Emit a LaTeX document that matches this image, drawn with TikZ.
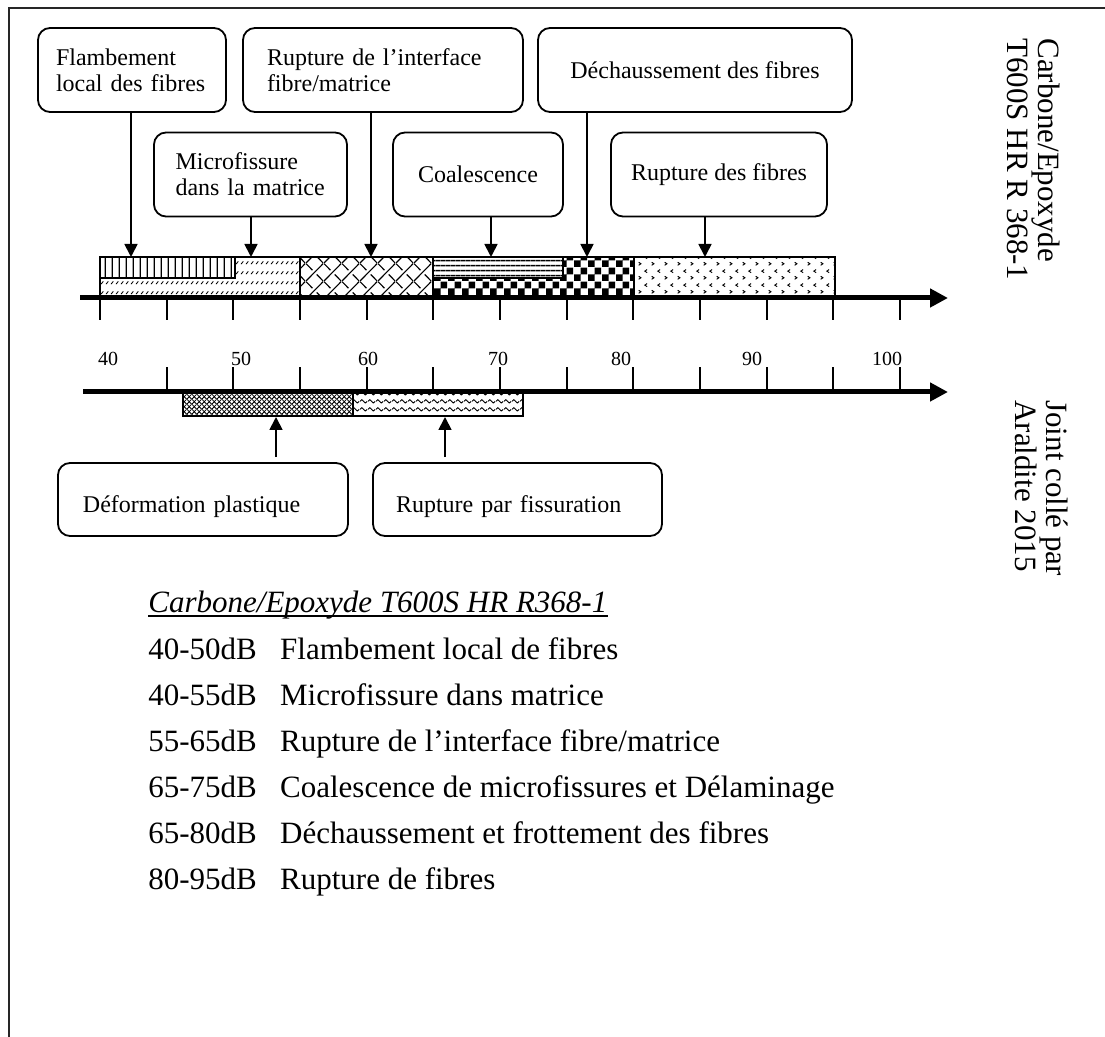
\documentclass[tikz,border=0pt]{standalone}
\usepackage{fontspec}
\setmainfont{Liberation Serif}
\usetikzlibrary{patterns,arrows.meta,positioning}
% fill patterns of the bars
\pgfdeclarepatternformonly{myVLines}{\pgfqpoint{0pt}{0pt}}{\pgfqpoint{3.4pt}{3.4pt}}{\pgfqpoint{3.4pt}{3.4pt}}{
	\pgfsetlinewidth{0.6pt}
	\pgfpathmoveto{\pgfqpoint{1.7pt}{0pt}}
	\pgfpathlineto{\pgfqpoint{1.7pt}{3.4pt}}
	\pgfusepath{stroke}
}
\pgfdeclarepatternformonly{myHLines}{\pgfqpoint{0pt}{0pt}}{\pgfqpoint{2.6pt}{2.6pt}}{\pgfqpoint{2.6pt}{2.6pt}}{
	\pgfsetlinewidth{0.8pt}
	\pgfpathmoveto{\pgfqpoint{0pt}{1.3pt}}
	\pgfpathlineto{\pgfqpoint{2.6pt}{1.3pt}}
	\pgfusepath{stroke}
}
\pgfdeclarepatternformonly{myDashes}{\pgfqpoint{0pt}{0pt}}{\pgfqpoint{2.4pt}{5pt}}{\pgfqpoint{2.4pt}{5pt}}{
	\pgfsetlinewidth{0.45pt}
	\pgfpathmoveto{\pgfqpoint{0.5pt}{1.5pt}}
	\pgfpathlineto{\pgfqpoint{1.7pt}{3pt}}
	\pgfusepath{stroke}
}
\pgfdeclarepatternformonly{myWeave}{\pgfqpoint{0pt}{0pt}}{\pgfqpoint{9pt}{9pt}}{\pgfqpoint{9pt}{9pt}}{
	\pgfsetlinewidth{0.6pt}
	\pgfpathmoveto{\pgfqpoint{0pt}{0pt}}
	\pgfpathlineto{\pgfqpoint{9pt}{9pt}}
	\pgfpathmoveto{\pgfqpoint{0pt}{9pt}}
	\pgfpathlineto{\pgfqpoint{3.4pt}{5.6pt}}
	\pgfpathmoveto{\pgfqpoint{5.6pt}{3.4pt}}
	\pgfpathlineto{\pgfqpoint{9pt}{0pt}}
	\pgfusepath{stroke}
}
\pgfdeclarepatternformonly{myChecker}{\pgfqpoint{0pt}{0pt}}{\pgfqpoint{7pt}{7pt}}{\pgfqpoint{7pt}{7pt}}{
	\pgfpathrectangle{\pgfqpoint{0pt}{0pt}}{\pgfqpoint{3.5pt}{3.5pt}}
	\pgfpathrectangle{\pgfqpoint{3.5pt}{3.5pt}}{\pgfqpoint{3.5pt}{3.5pt}}
	\pgfusepath{fill}
}
\pgfdeclarepatternformonly{myChevrons}{\pgfqpoint{0pt}{0pt}}{\pgfqpoint{6.5pt}{7pt}}{\pgfqpoint{6.5pt}{7pt}}{
	\pgfsetlinewidth{0.5pt}
	\pgfpathmoveto{\pgfqpoint{0.9pt}{0.9pt}}
	\pgfpathlineto{\pgfqpoint{2.1pt}{1.7pt}}
	\pgfpathlineto{\pgfqpoint{0.9pt}{2.5pt}}
	\pgfpathmoveto{\pgfqpoint{5.4pt}{4.4pt}}
	\pgfpathlineto{\pgfqpoint{4.2pt}{5.2pt}}
	\pgfpathlineto{\pgfqpoint{5.4pt}{6pt}}
	\pgfusepath{stroke}
}
\pgfdeclarepatternformonly{myMesh}{\pgfqpoint{0pt}{0pt}}{\pgfqpoint{2.6pt}{2.6pt}}{\pgfqpoint{2.6pt}{2.6pt}}{
	\pgfsetlinewidth{0.45pt}
	\pgfpathmoveto{\pgfqpoint{0pt}{0pt}}
	\pgfpathlineto{\pgfqpoint{2.6pt}{2.6pt}}
	\pgfpathmoveto{\pgfqpoint{0pt}{2.6pt}}
	\pgfpathlineto{\pgfqpoint{2.6pt}{0pt}}
	\pgfusepath{stroke}
}
\pgfdeclarepatternformonly{myWaves}{\pgfqpoint{0pt}{0pt}}{\pgfqpoint{4pt}{4pt}}{\pgfqpoint{4pt}{4pt}}{
	\pgfsetlinewidth{0.5pt}
	\pgfpathmoveto{\pgfqpoint{0pt}{2pt}}
	\pgfpathcurveto{\pgfqpoint{0.7pt}{3.2pt}}{\pgfqpoint{1.3pt}{3.2pt}}{\pgfqpoint{2pt}{2pt}}
	\pgfpathcurveto{\pgfqpoint{2.7pt}{0.8pt}}{\pgfqpoint{3.3pt}{0.8pt}}{\pgfqpoint{4pt}{2pt}}
	\pgfusepath{stroke}
}
\tikzset{
myFrame/.style={line width=1.3pt, black!85}
, myBox/.style={
	draw, rounded corners=6pt, line width=0.9pt,
	inner sep=0pt, minimum height=42pt,
	font=\fontsize{12}{13}\selectfont
}
, myBoxL/.style 2 args={myBox, minimum width=#1, text width=#2, align=left}
, myBoxC/.style={myBox, minimum width=#1, align=center}
, myBoxLow/.style 2 args={myBoxL={#1}{#2}, minimum height=0pt, text height=25pt, text depth=11.5pt}
, myArrow/.style={-{Triangle[length=6.5pt,width=6.5pt]}, line width=0.9pt}
, myAxis/.style={-{Triangle[length=9pt,width=9pt]}, line width=2.5pt}
, myTick/.style={line width=0.9pt}
, myBar/.style={draw, line width=0.9pt}
, myNum/.style={inner sep=0pt, font=\fontsize{10}{12}\selectfont}
, mySide/.style={inner sep=0pt, align=left, font=\fontsize{15.5}{15.5}\selectfont}
, myList/.style={inner sep=0pt, anchor=base west, font=\fontsize{15.5}{18}\selectfont}
}
\begin{document}
\begin{tikzpicture}[x=0.5pt,y=-0.5pt]
	\useasboundingbox (0,0) rectangle (1105,1037);
	% frame
	\draw[myFrame] (9,1037) -- (9,8) -- (1105,8);

	% boxes of the composite
	\node[myBoxL={94pt}{76pt}] (flamb) at (132,70) {Flambement\\local des fibres};
	\node[myBoxL={140pt}{116pt}] (interf) at (383,70) {Rupture de l’interface\\fibre/matrice};
	\node[myBoxC=157pt] (dechaus) at (695,70) {Déchaussement des fibres};
	\node[myBoxL={96.5pt}{75pt}] (microf) at (250.5,174.5) {Microfissure\\dans la matrice};
	\node[myBoxC=85pt] (coal) at (478,174.5) {Coalescence};
	\node[myBoxC=108pt] (rupfib) at (719,174.5) {Rupture des fibres};
	% boxes of the joint
	\node[myBoxLow={145pt}{120pt}] (deform) at (203,499.5) {Déformation plastique};
	\node[myBoxLow={144.5pt}{121.5pt}] (fiss) at (517.5,499.5) {Rupture par fissuration};

	% bars
	\draw[myBar, pattern=myDashes] (100,257) rectangle (300,298);
	\draw[myBar, preaction={fill=white}, pattern=myVLines] (100,257) rectangle (235,278);
	\draw[myBar, pattern=myWeave] (300,257) rectangle (433,298);
	\draw[myBar, pattern=myChecker] (433,257) rectangle (634,298);
	\draw[myBar, preaction={fill=white}, pattern=myHLines] (433,257) rectangle (563,278);
	\draw[myBar, pattern=myChevrons] (634,257) rectangle (835,298);
	\draw[myBar, pattern=myMesh] (183,392) rectangle (353,416);
	\draw[myBar, pattern=myWaves] (353,392) rectangle (523,416);

	% axis
	\draw[myAxis] (80,298) -- (948,298);
	\draw[myAxis] (83,392) -- (948,392);
	\foreach \k in {0,...,12}
		\draw[myTick] ({100+200*\k/3},298) -- ++(0,22);
	\foreach \k in {1,...,12}
		\draw[myTick] ({100+200*\k/3},392) -- ++(0,-25);
	\foreach \v/\x in {40/108,50/241,60/368,70/498,80/621,90/752,100/887}
		\node[myNum, anchor=base] (num\v) at (\x,366) {\v};

	% links
	\coordinate (tFlamb) at (131,257);
	\coordinate (tMicrof) at (251,257);
	\coordinate (tInterf) at (371,257);
	\coordinate (tCoal) at (491,257);
	\coordinate (tDechaus) at (587,257);
	\coordinate (tRupfib) at (705,257);
	\coordinate (tDeform) at (276,417);
	\coordinate (tFiss) at (445,417);
	\draw[myArrow] (flamb.south -| tFlamb) -- (tFlamb);
	\draw[myArrow] (microf.south -| tMicrof) -- (tMicrof);
	\draw[myArrow] (interf.south -| tInterf) -- (tInterf);
	\draw[myArrow] (coal.south -| tCoal) -- (tCoal);
	\draw[myArrow] (dechaus.south -| tDechaus) -- (tDechaus);
	\draw[myArrow] (rupfib.south -| tRupfib) -- (tRupfib);
	\draw[myArrow, shorten <=2.5pt] (deform.north -| tDeform) -- (tDeform);
	\draw[myArrow, shorten <=2.5pt] (fiss.north -| tFiss) -- (tFiss);

	% side labels
	\node[mySide, rotate=-90, anchor=north west] (carbLab) at (1060,38) {Carbone/Epoxyde\\T600S HR R 368-1};
	\node[mySide, rotate=-90, anchor=north west] (jointLab) at (1068,400) {Joint collé par\\Araldite 2015};

	% legend
	\node[myList] (title) at (148,613) {\itshape Carbone/Epoxyde T600S HR R368-1};
	\draw[line width=0.8pt] ([yshift=-1.6pt]title.base west) -- ([yshift=-1.6pt]title.base east);
	\node[myList] (row1) at (148,660) {40-50dB\hspace{0.75em}Flambement local de fibres};
	\node[myList] (row2) at (148,706) {40-55dB\hspace{0.75em}Microfissure dans matrice};
	\node[myList] (row3) at (148,752) {55-65dB\hspace{0.75em}Rupture de l’interface fibre/matrice};
	\node[myList] (row4) at (148,798) {65-75dB\hspace{0.75em}Coalescence de microfissures et Délaminage};
	\node[myList] (row5) at (148,844) {65-80dB\hspace{0.75em}Déchaussement et frottement des fibres};
	\node[myList] (row6) at (148,890) {80-95dB\hspace{0.75em}Rupture de fibres};
\end{tikzpicture}
\end{document}
